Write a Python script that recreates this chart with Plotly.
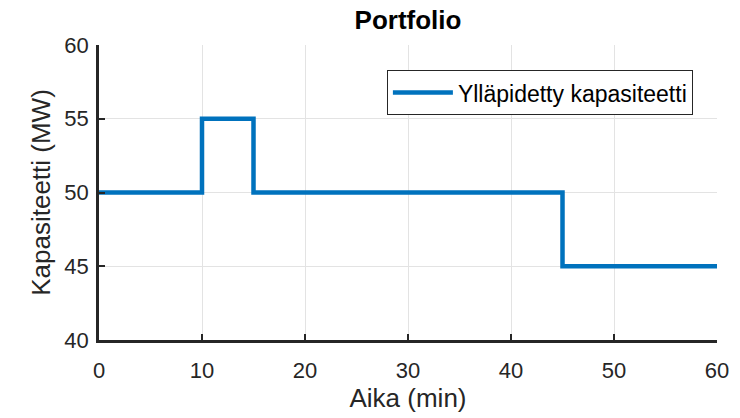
import plotly.graph_objects as go

# Data
time_min = [0, 10, 15, 45, 60]
capacity_mw = [50, 55, 50, 45, 45]
series_name = "Ylläpidetty kapasiteetti"
x_ticks = [0, 10, 20, 30, 40, 50, 60]
y_ticks = [40, 45, 50, 55, 60]

FONT = "Liberation Sans, Arial, sans-serif"

fig = go.Figure()
fig.add_trace(go.Scatter(
    x=time_min, y=capacity_mw, mode="lines", line_shape="hv",
    name=series_name, line=dict(color="#0072BD", width=4.5),
))

axis_common = dict(
    showgrid=True, gridcolor="#e3e3e3", gridwidth=1,
    showline=True, linecolor="#262626", linewidth=2.5,
    ticks="inside", ticklen=6, tickwidth=1.5, tickcolor="#262626",
    zeroline=False, mirror=False,
    tickfont=dict(family=FONT, size=22, color="#262626"),
)

fig.update_layout(
    width=740, height=418,
    margin=dict(l=99, r=23, t=45, b=78),
    paper_bgcolor="white", plot_bgcolor="white",
    title=dict(text="<b>Portfolio</b>", xref="paper", x=0.5, xanchor="center",
               y=1 - 20 / 418, yanchor="middle",
               font=dict(family=FONT, size=26, color="black")),
    xaxis=dict(range=[0, 60], tickvals=x_ticks, ticklabelstandoff=9,
               title=dict(text="Aika (min)", font=dict(family=FONT, size=26, color="#262626"), standoff=2),
               **axis_common),
    yaxis=dict(range=[40, 60], tickvals=y_ticks, ticklabelstandoff=3,
               title=dict(text="Kapasiteetti (MW)", font=dict(family=FONT, size=26, color="#262626"), standoff=7),
               **axis_common),
    legend=dict(x=0.961, xanchor="right", y=0.915, yanchor="top",
                bgcolor="white", bordercolor="#262626", borderwidth=1,
                itemwidth=60,
                font=dict(family=FONT, size=23, color="black")),
    showlegend=True,
)

fig.write_html("out.html", config={"displayModeBar": False},
               post_script="document.body.style.margin='0';")
